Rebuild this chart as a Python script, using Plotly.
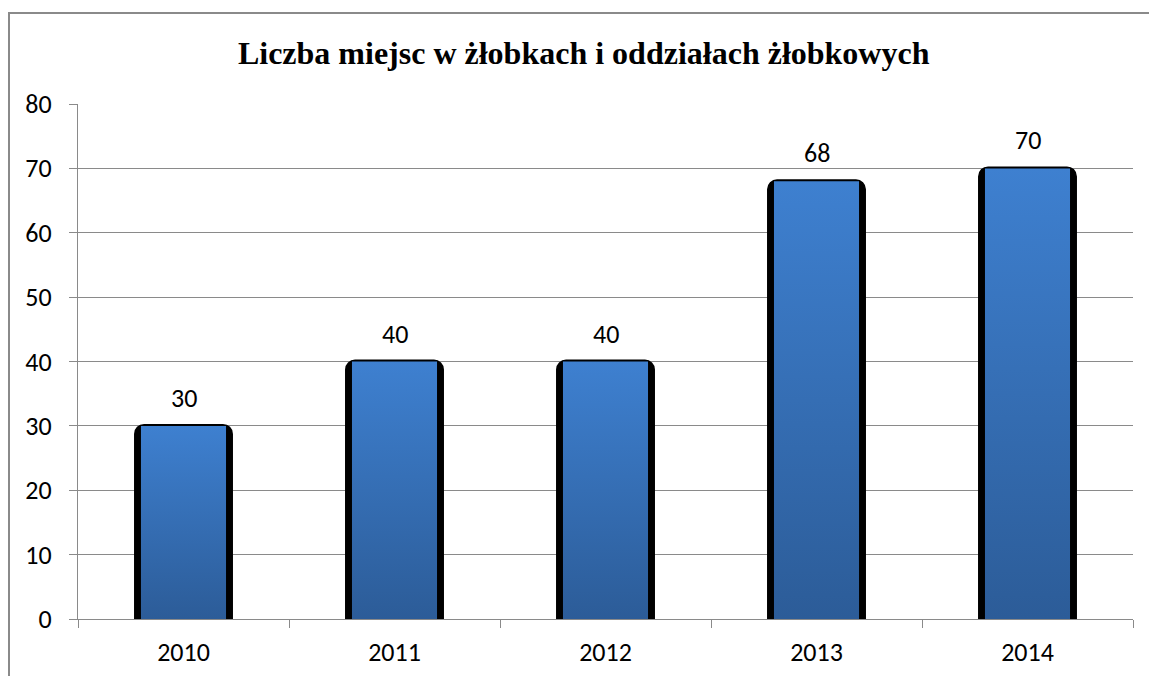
import plotly.graph_objects as go

# Data
years = ["2010", "2011", "2012", "2013", "2014"]
places = [30, 40, 40, 68, 70]
y_ticks = [0, 10, 20, 30, 40, 50, 60, 70, 80]

title_text = "Liczba miejsc w żłobkach i oddziałach żłobkowych"

# Style
label_font = "Calibri, Carlito, Lato, sans-serif"
title_font = "Times New Roman, Liberation Serif, serif"
grid_grey = "#8a8a8a"
grad_bottom = "#2c5c98"
grad_top = "#3e80d0"

W, H = 1149, 676
ml, mr, mt, mb = 78, 16, 104, 57
pw, ph = W - ml - mr, H - mt - mb

fig = go.Figure()

# Dark backing column behind each bar (rounded top corners)
fig.add_trace(go.Bar(
    x=years, y=places, width=0.45,
    marker=dict(color="black", line=dict(color="black", width=4), cornerradius=8),
    hoverinfo="skip", showlegend=False,
))

# Blue gradient face of each bar, on a hidden numeric axis aligned to the categories
half = 0.2015
for i, v in enumerate(places):
    fig.add_trace(go.Scatter(
        x=[i - half, i - half, i + half, i + half, i - half],
        y=[0, v, v, 0, 0],
        xaxis="x2", mode="lines", line=dict(width=0),
        fill="toself",
        fillgradient=dict(type="vertical",
                          colorscale=[[0, grad_bottom], [1, grad_top]]),
        hoverinfo="skip", showlegend=False,
    ))

# Value labels above bars (category axis positions are serial indices)
for i, v in enumerate(places):
    fig.add_annotation(
        x=i, y=v, xref="x", yref="y", text=str(v), showarrow=False,
        yanchor="bottom", yshift=10,
        font=dict(family=label_font, size=26, color="black"),
    )

# Outer chart frame
fig.add_shape(
    type="rect", xref="paper", yref="paper",
    x0=(9 - ml) / pw, x1=1.05, y0=-0.3, y1=1 + (mt - 13) / ph,
    line=dict(color="#8a8a8a", width=2), fillcolor="rgba(0,0,0,0)", layer="below",
)

fig.update_layout(
    width=W, height=H,
    margin=dict(l=ml, r=mr, t=mt, b=mb, autoexpand=False),
    paper_bgcolor="white", plot_bgcolor="white",
    barmode="overlay",
    title=dict(
        text="<b>" + title_text + "</b>",
        font=dict(family=title_font, size=32, color="black"),
        xref="container", x=0.508, xanchor="center",
        yref="container", y=1 - 53 / H, yanchor="middle",
    ),
    xaxis=dict(
        type="category", range=[-0.5, 4.5], automargin=False,
        tickson="boundaries", ticks="outside", ticklen=8, tickcolor=grid_grey,
        showline=True, linecolor=grid_grey, linewidth=1.3,
        showgrid=False,
        tickfont=dict(family=label_font, size=26, color="black"),
        ticklabelstandoff=10,
    ),
    xaxis2=dict(overlaying="x", range=[-0.5, 4.5], visible=False),
    yaxis=dict(
        range=[0, 80], tickvals=y_ticks, automargin=False,
        ticks="outside", ticklen=8, tickcolor=grid_grey,
        showline=True, linecolor=grid_grey, linewidth=1.3,
        showgrid=True, gridcolor=grid_grey, gridwidth=1.3,
        zeroline=False,
        tickfont=dict(family=label_font, size=26, color="black"),
        ticklabelstandoff=12,
    ),
)

fig.write_html("out.html")
